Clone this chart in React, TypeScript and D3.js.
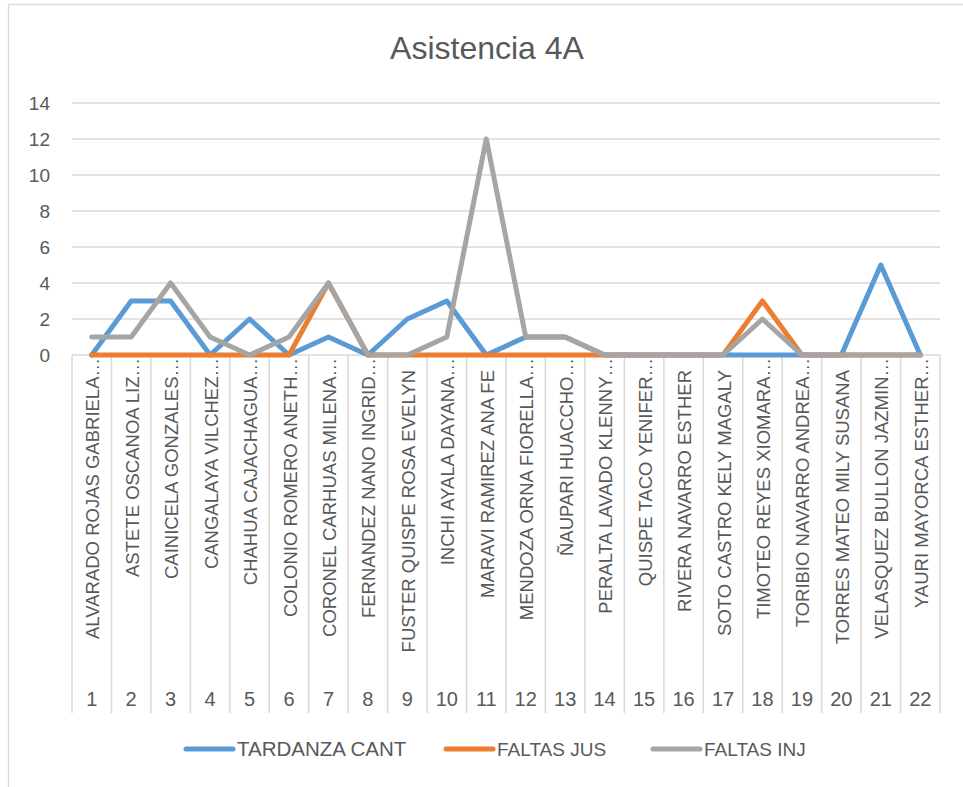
import React from "react";
import * as d3 from "d3";

const title = "Asistencia 4A";
const indices = ["1","2","3","4","5","6","7","8","9","10","11","12","13","14","15","16","17","18","19","20","21","22"];
const names = [
  "ALVARADO ROJAS GABRIELA…",
  "ASTETE OSCANOA LIZ…",
  "CAINICELA GONZALES…",
  "CANGALAYA VILCHEZ…",
  "CHAHUA CAJACHAGUA…",
  "COLONIO ROMERO ANETH…",
  "CORONEL CARHUAS MILENA…",
  "FERNANDEZ NANO INGRID…",
  "FUSTER QUISPE ROSA EVELYN",
  "INCHI AYALA DAYANA…",
  "MARAVI RAMIREZ ANA FE",
  "MENDOZA ORNA FIORELLA…",
  "ÑAUPARI HUACCHO…",
  "PERALTA LAVADO KLENNY…",
  "QUISPE TACO YENIFER…",
  "RIVERA NAVARRO ESTHER",
  "SOTO CASTRO KELY MAGALY",
  "TIMOTEO REYES XIOMARA…",
  "TORIBIO NAVARRO ANDREA…",
  "TORRES MATEO MILY SUSANA",
  "VELASQUEZ BULLON JAZMIN…",
  "YAURI MAYORCA ESTHER…",
];
const tardanzaCant = [0,3,3,0,2,0,1,0,2,3,0,1,1,0,0,0,0,0,0,0,5,0];
const faltasJus = [0,0,0,0,0,0,4,0,0,0,0,0,0,0,0,0,0,3,0,0,0,0];
const faltasInj = [1,1,4,1,0,1,4,0,0,1,12,1,1,0,0,0,0,2,0,0,0,0];
const seriesNames = ["TARDANZA CANT", "FALTAS JUS", "FALTAS INJ"];
const yTicks = [0,2,4,6,8,10,12,14];

const colors = ["#5B9BD5", "#ED7D31", "#A5A5A5"];
const FONT = "'Liberation Sans', Arial, sans-serif";
const TXT = "#595959";
const GRID = "#D9D9D9";

export default function App() {
  const W = 963, H = 787;
  const left = 72, right = 940, top = 103, bottom = 355;
  const x = d3.scaleBand<string>().domain(indices).range([left, right]).padding(0);
  const y = d3.scaleLinear().domain([0, 14]).range([bottom, top]);
  const cx = (i: number) => (x(indices[i]) as number) + x.bandwidth() / 2;
  const line = d3.line<number>().x((_, i) => cx(i)).y((v) => y(v));
  const series = [tardanzaCant, faltasJus, faltasInj];
  const sepBottom = 713;
  const boundaries = indices.map((k) => x(k) as number).concat([right]);

  const legendTextX = [237, 497, 704];
  const sampleLen = 47;

  return (
    <svg width={W} height={H} style={{ position: "absolute", left: 0, top: 0 }} fontFamily={FONT}>
      <rect x={0} y={0} width={W} height={H} fill="#fff" />
      <rect x={8.5} y={4.5} width={980} height={820} fill="#fff" stroke={GRID} strokeWidth={1.3} />
      <text x={487} y={59} textAnchor="middle" fontSize={32} fill={TXT}>{title}</text>
      {yTicks.map((t) => (
        <g key={t}>
          {t > 0 && <line x1={left} x2={right} y1={y(t)} y2={y(t)} stroke={GRID} strokeWidth={1.5} />}
          <text x={50} y={y(t)} dy="0.36em" textAnchor="end" fontSize={19} fill={TXT}>{t}</text>
        </g>
      ))}
      <line x1={left} x2={right} y1={bottom} y2={bottom} stroke={GRID} strokeWidth={1.5} />
      {boundaries.map((b, i) => (
        <line key={i} x1={b} x2={b} y1={bottom} y2={sepBottom} stroke={GRID} strokeWidth={1.5} />
      ))}
      {names.map((n, i) => {
        const ay = n.endsWith("…") ? 358 : 370;
        return (
          <text key={i} transform={`translate(${cx(i) + 1},${ay}) rotate(-90)`} textAnchor="end" dominantBaseline="central" fontSize={18.5} fill={TXT}>{n}</text>
        );
      })}
      {indices.map((k, i) => (
        <text key={k} x={cx(i)} y={706} textAnchor="middle" fontSize={20} fill={TXT}>{k}</text>
      ))}
      {series.map((s, si) => (
        <path key={si} d={line(s) as string} fill="none" stroke={colors[si]} strokeWidth={5} strokeLinejoin="round" strokeLinecap="round" />
      ))}
      {legendTextX.map((tx, i) => (
        <g key={i}>
          <line x1={tx - 4 - sampleLen} x2={tx - 4} y1={749} y2={749} stroke={colors[i]} strokeWidth={5} strokeLinecap="round" />
          <text x={tx} y={749} dy="0.36em" fontSize={i === 0 ? 20.5 : 19} fill={TXT}>{seriesNames[i]}</text>
        </g>
      ))}
    </svg>
  );
}
